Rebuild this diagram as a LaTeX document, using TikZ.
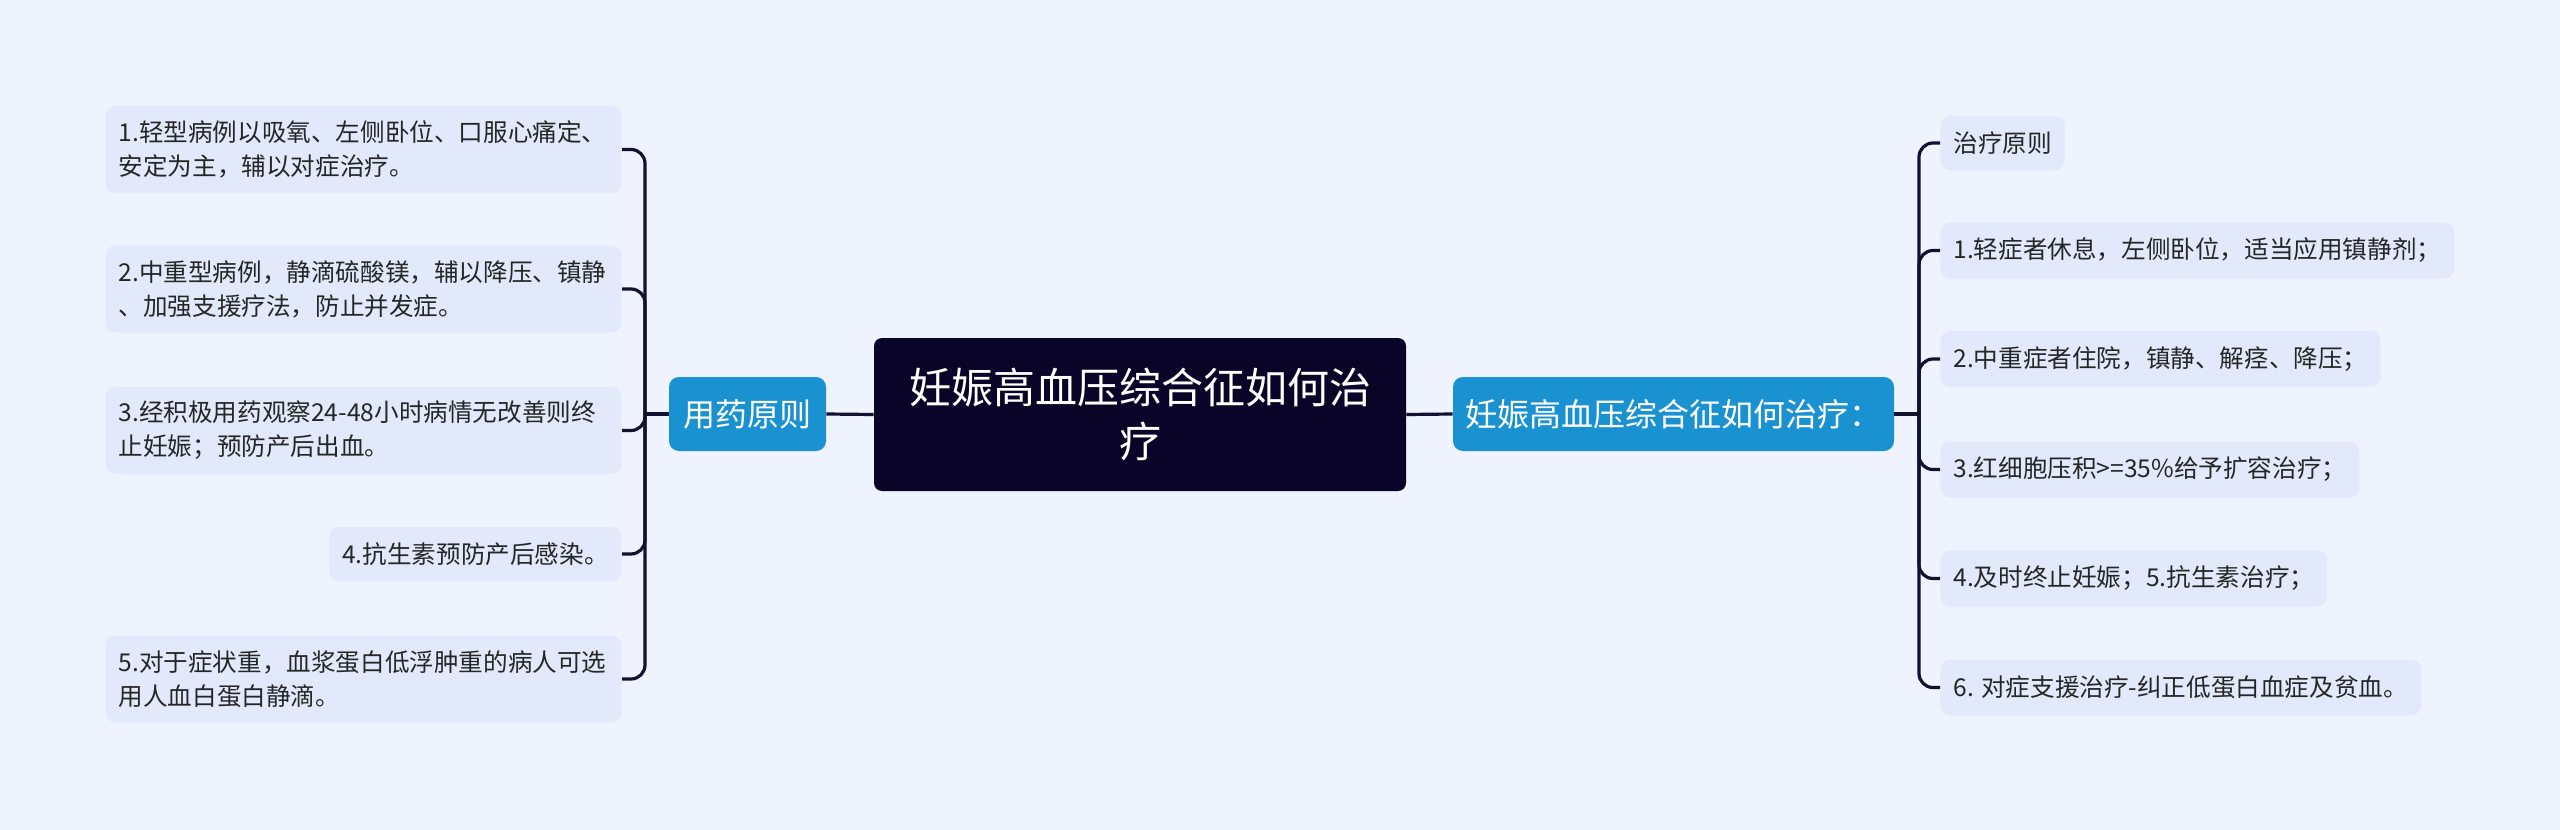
\documentclass[tikz,border=0pt]{standalone}
\usepackage{fontspec}
\setmainfont{Noto Sans CJK SC}
\usetikzlibrary{positioning}
\definecolor{bgblue}{HTML}{EEF3FE}
\definecolor{leafblue}{HTML}{E1E9FB}
\definecolor{rootnavy}{HTML}{0A0528}
\definecolor{branchblue}{HTML}{1A92D2}
\definecolor{linenavy}{HTML}{13112F}
\definecolor{inkgray}{HTML}{262626}
\begin{document}
\begin{tikzpicture}[x=0.5pt,y=-0.5pt,
  leaf/.style={fill=leafblue, rounded corners=5pt, inner xsep=6.5pt, inner ysep=0pt,
    font=\fontsize{12.3}{17}\selectfont, text=inkgray, align=left},
  wideleaf/.style={leaf, text width=245pt, minimum height=43.5pt, anchor=east},
  branch/.style={fill=branchblue, rounded corners=5pt, text=white, minimum height=37pt,
    font=\fontsize{16}{20}\selectfont},
  conn/.style={draw=linenavy, line width=1.6pt, rounded corners=7pt}]
  % Background
  \fill[bgblue] (0,0) rectangle (2560,830);
  \useasboundingbox (0,0) rectangle (2560,830);

  % Root
  \node[fill=rootnavy, rounded corners=4pt, text=white, align=center,
    minimum width=266pt, minimum height=76.5pt,
    font=\fontsize{21}{27}\selectfont] (root) at (1140,414.5)
    {妊娠高血压综合征如何治\\疗};

  % Branches
  \node[branch, minimum width=78.5pt] (yao) at (747.5,414) {用药原则};
  \node[branch, minimum width=220.5pt] (fang) at (1673.5,414) {妊娠高血压综合征如何治疗：};

  % Left leaves
  \node[wideleaf] (l1) at (622,149.5)
    {1.轻型病例以吸氧、左侧卧位、口服心痛定、\\安定为主，辅以对症治疗。};
  \node[wideleaf] (l2) at (622,289)
    {2.中重型病例，静滴硫酸镁，辅以降压、镇静\\、加强支援疗法，防止并发症。};
  \node[wideleaf] (l3) at (622,430.5)
    {3.经积极用药观察24-48小时病情无改善则终\\止妊娠；预防产后出血。};
  \node[leaf, anchor=east, minimum height=27pt] (l4) at (622,554)
    {4.抗生素预防产后感染。};
  \node[wideleaf] (l5) at (622,679)
    {5.对于症状重，血浆蛋白低浮肿重的病人可选\\用人血白蛋白静滴。};

  % Right leaves
  \node[leaf, anchor=west, minimum height=27pt] (r0) at (1940,143) {治疗原则};
  \node[leaf, anchor=west, minimum height=28pt] (r1) at (1940,250.5) {1.轻症者休息，左侧卧位，适当应用镇静剂；};
  \node[leaf, anchor=west, minimum height=28pt] (r2) at (1940,359) {2.中重症者住院，镇静、解痉、降压；};
  \node[leaf, anchor=west, minimum height=28pt] (r3) at (1940,469.5) {3.红细胞压积>=35\%给予扩容治疗；};
  \node[leaf, anchor=west, minimum height=28pt] (r4) at (1940,578.5) {4.及时终止妊娠；5.抗生素治疗；};
  \node[leaf, anchor=west, minimum height=28pt] (r5) at (1940,687.5) {6. 对症支援治疗-纠正低蛋白血症及贫血。};

  % Joints
  \coordinate (lj) at (645,414);
  \coordinate (rj) at (1919,414);

  % Connectors
  \draw[conn] (root.west) -- (yao.east);
  \draw[conn] (root.east) -- (fang.west);
  \draw[conn] (yao.west) -- (lj);
  \draw[conn] (fang.east) -- (rj);
  \foreach \n in {l1,l2,l3,l4,l5}
    \draw[conn] (lj) |- (\n.east);
  \foreach \n in {r0,r1,r2,r3,r4,r5}
    \draw[conn] (rj) |- (\n.west);
\end{tikzpicture}
\end{document}
